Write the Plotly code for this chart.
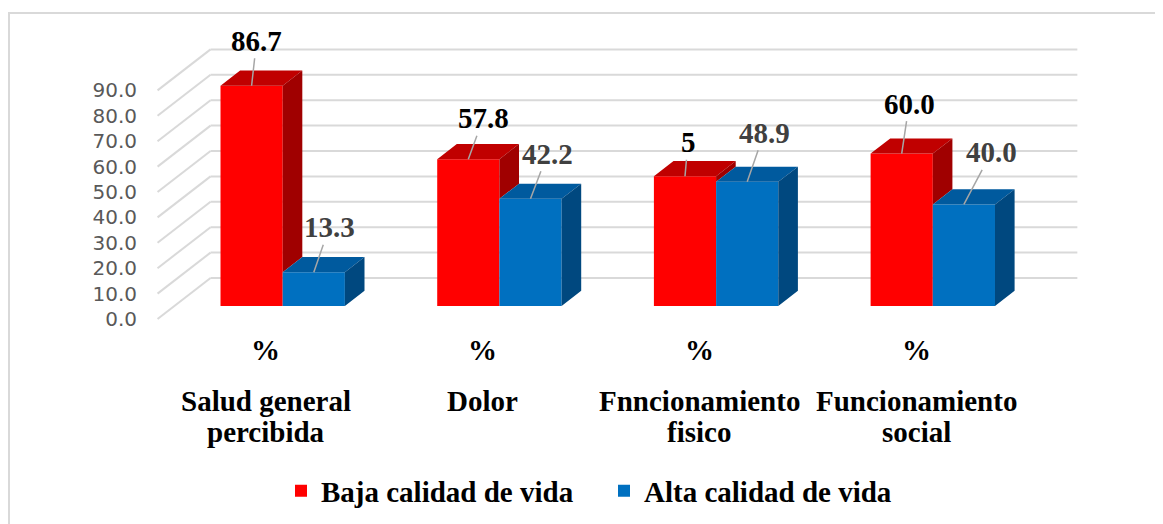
import plotly.graph_objects as go

# ---------------- data ----------------
categories = ["Salud general<br>percibida", "Dolor", "Fnncionamiento<br>fisico", "Funcionamiento<br>social"]
unit_labels = ["%", "%", "%", "%"]
series_names = ["Baja calidad de vida", "Alta calidad de vida"]
baja = [86.7, 57.8, 51.1, 60.0]
alta = [13.3, 42.2, 48.9, 40.0]
baja_text = ["86.7", "57.8", "5", "60.0"]
alta_text = ["13.3", "42.2", "48.9", "40.0"]
y_ticks = [0, 10, 20, 30, 40, 50, 60, 70, 80, 90]
y_tick_text = [f"{v:.1f}" for v in y_ticks]

# ---------------- geometry / style ----------------
OFF = 8                   # page body margin of the html page
W, H = 1163 - OFF, 524 - OFF
L_MARGIN = 138 - OFF
PX_PER_CAT = 216.7        # px per category step
PX_PER_UNIT = 2.54        # px per value unit
X0_PX = 265.9 - OFF       # px of category 0 at front plane
Y0_PX = 319.0 - OFF       # px of value 0 at front plane
DEPTH_DX = 53.0           # px shift from front plane to back wall
DEPTH_DY = 41.0
BAR_D0, BAR_DEPTH = 0.317, 0.37
BAR_W = 0.287

RED, RED_TOP, RED_SIDE = "#FF0000", "#C00000", "#A00000"
BLUE, BLUE_TOP, BLUE_SIDE = "#0070C0", "#005A9E", "#00487F"
GRID = "#D9D9D9"
SERIF = "Liberation Serif"


def proj(X, v, d):
    return X + d * DEPTH_DX / PX_PER_CAT, v + d * DEPTH_DY / PX_PER_UNIT


def paper_y(py):
    return (H - (py - OFF)) / H


def paper_x(px):
    return (px - OFF - L_MARGIN) / (W - L_MARGIN)


n = len(categories)
xs = list(range(n))
bx, by = proj(0, 0, BAR_D0)  # shift of the bar front plane

fig = go.Figure()
fig.add_trace(go.Bar(x=xs, y=baja, base=by, offset=-BAR_W + bx, width=BAR_W,
                     name=series_names[0], marker=dict(color=RED, line=dict(width=0))))
fig.add_trace(go.Bar(x=xs, y=alta, base=by, offset=bx, width=BAR_W,
                     name=series_names[1], marker=dict(color=BLUE, line=dict(width=0))))


def poly_trace(polys, color):
    px, py = [], []
    for poly in polys:
        for (a, b) in poly + [poly[0]]:
            px.append(a)
            py.append(b)
        px.append(None)
        py.append(None)
    return go.Scatter(x=px, y=py, mode="lines", fill="toself", fillcolor=color,
                      line=dict(width=0, color=color), hoverinfo="skip", showlegend=False)


d0, d1 = BAR_D0, BAR_D0 + BAR_DEPTH
red_tops, red_sides, blue_tops, blue_sides = [], [], [], []
for i in range(n):
    xl, xr = i - BAR_W, i
    v = baja[i]
    red_tops.append([proj(xl, v, d0), proj(xr, v, d0), proj(xr, v, d1), proj(xl, v, d1)])
    lo = max(0, alta[i])
    if lo < v:
        red_sides.append([proj(xr, lo, d0), proj(xr, v, d0), proj(xr, v, d1), proj(xr, lo, d1)])
    xl, xr = i, i + BAR_W
    v = alta[i]
    blue_tops.append([proj(xl, v, d0), proj(xr, v, d0), proj(xr, v, d1), proj(xl, v, d1)])
    blue_sides.append([proj(xr, 0, d0), proj(xr, v, d0), proj(xr, v, d1), proj(xr, 0, d1)])

fig.add_trace(poly_trace(red_tops, RED_TOP))
fig.add_trace(poly_trace(red_sides, RED_SIDE))
fig.add_trace(poly_trace(blue_tops, BLUE_TOP))
fig.add_trace(poly_trace(blue_sides, BLUE_SIDE))

# back wall and side wall grid lines
shapes = []
for v in y_ticks:
    a = proj(-0.5, v, 1)
    b = proj(n - 0.5, v, 1)
    f = proj(-0.5, v, 0)
    shapes.append(dict(type="line", xref="x", yref="y", x0=a[0], y0=a[1], x1=b[0], y1=b[1],
                       line=dict(color=GRID, width=2), layer="below"))
    shapes.append(dict(type="line", xref="x", yref="y", x0=f[0], y0=f[1], x1=a[0], y1=a[1],
                       line=dict(color=GRID, width=2), layer="below"))
# chart border
shapes.append(dict(type="rect", xref="paper", yref="paper",
                   x0=paper_x(9), x1=1.1, y0=-0.1, y1=paper_y(13),
                   line=dict(color=GRID, width=2), layer="below"))

annotations = []
baja_off = [(5, -45), (15, -41), (3, -34), (7.5, -50)]
alta_off = [(15.5, -45), (17, -45), (17, -49), (27.5, -52)]
for i in range(n):
    for vals, texts, offs, xl, col in ((baja, baja_text, baja_off, i - BAR_W, "#000000"),
                                       (alta, alta_text, alta_off, i, "#404040")):
        ax_, ay_ = proj(xl + BAR_W / 2, vals[i], BAR_D0)
        annotations.append(dict(x=ax_, y=ay_, xref="x", yref="y", text=texts[i],
                                showarrow=True, arrowhead=0, arrowwidth=1.5, arrowcolor="#A6A6A6",
                                ax=offs[i][0], ay=offs[i][1], standoff=0,
                                font=dict(family=SERIF, size=29, color=col, weight="bold")))
    annotations.append(dict(x=i, y=paper_y(350), xref="x", yref="paper", text=unit_labels[i],
                            showarrow=False, yanchor="middle",
                            font=dict(family=SERIF, size=29, color="#000000", weight="bold")))
    for k, line in enumerate(categories[i].split("<br>")):
        annotations.append(dict(x=i, y=paper_y(401 + 31 * k), xref="x", yref="paper", text=line,
                                showarrow=False, yanchor="middle",
                                font=dict(family=SERIF, size=29, color="#000000", weight="bold")))

fig.update_layout(
    width=W, height=H,
    margin=dict(l=L_MARGIN, r=0, t=0, b=0),
    paper_bgcolor="white", plot_bgcolor="white",
    barmode="overlay",
    xaxis=dict(range=[(L_MARGIN - X0_PX) / PX_PER_CAT, (W - X0_PX) / PX_PER_CAT],
               visible=False, fixedrange=True),
    yaxis=dict(range=[(Y0_PX - H) / PX_PER_UNIT, Y0_PX / PX_PER_UNIT],
               tickvals=y_ticks, ticktext=y_tick_text, showgrid=False, zeroline=False,
               showline=False, ticks="", tickfont=dict(family="DejaVu Sans", size=20, color="#595959"),
               fixedrange=True),
    shapes=shapes,
    annotations=annotations,
    showlegend=True,
    legend=dict(orientation="h", xanchor="center", yanchor="middle",
                x=paper_x(604), y=paper_y(491),
                font=dict(family=SERIF, size=29, color="#000000", weight="bold"),
                bgcolor="rgba(0,0,0,0)", entrywidth=278, entrywidthmode="pixels"),
)

fig.write_html("out.html")
